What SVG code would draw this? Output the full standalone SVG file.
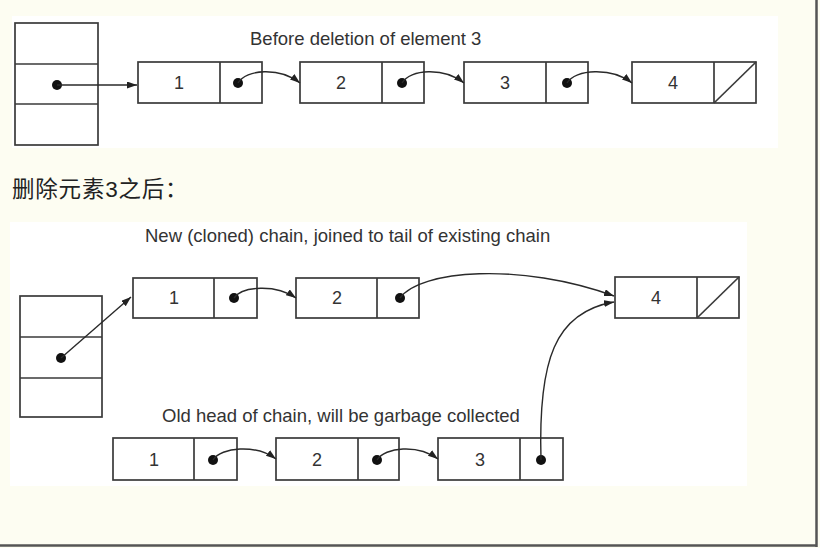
<svg xmlns="http://www.w3.org/2000/svg" width="820" height="548" viewBox="0 0 820 548">
  <style>
    .bx { fill: none; stroke: #3a3a3a; stroke-width: 1.7; }
    .ln { fill: none; stroke: #2a2a2a; stroke-width: 1.4; }
    .dot { fill: #111; }
    .num { font-family: "Liberation Sans", Arial, sans-serif; font-size: 18px; fill: #333; text-anchor: middle; }
    .cap { font-family: "Liberation Sans", Arial, sans-serif; font-size: 18.5px; fill: #333; }
    .cn { font-family: "Liberation Sans", "Noto Sans CJK SC", sans-serif; font-size: 22.5px; fill: #222; letter-spacing: 0.8px; }
  </style>
  <defs>
    <marker id="ah" markerUnits="userSpaceOnUse" markerWidth="11" markerHeight="8" refX="10" refY="3.5" orient="auto">
      <path d="M0,0 L10,3.5 L0,7 z" fill="#222"/>
    </marker>
  </defs>

  <rect x="0" y="0" width="820" height="548" fill="#fdfdf2"/>
  <rect x="12" y="16" width="766" height="132" fill="#ffffff"/>
  <rect x="10" y="222" width="737" height="264" fill="#ffffff"/>
  <line x1="816.5" y1="0" x2="816.5" y2="547" stroke="#555" stroke-width="2.5"/>
  <line x1="0" y1="545.5" x2="817" y2="545.5" stroke="#555" stroke-width="2.5"/>

  <text class="cap" x="250" y="45">Before deletion of element 3</text>
  <text class="cn" x="12" y="197">删除元素3之后：</text>
  <text class="cap" x="145" y="242">New (cloned) chain, joined to tail of existing chain</text>
  <text class="cap" x="162" y="422">Old head of chain, will be garbage collected</text>

  <!-- top: before deletion -->
  <g id="stack-top">
    <rect class="bx" x="15" y="23" width="83" height="122"/>
    <line class="bx" x1="15" y1="64" x2="98" y2="64"/>
    <line class="bx" x1="15" y1="104" x2="98" y2="104"/>
    <circle class="dot" cx="57" cy="85" r="5"/>
  </g>
  <g id="top-n1">
    <rect class="bx" x="138" y="62" width="124" height="41"/>
    <line class="bx" x1="220" y1="62" x2="220" y2="103"/>
    <text class="num" x="179" y="89">1</text>
    <circle class="dot" cx="238" cy="83" r="5"/>
  </g>
  <g id="top-n2">
    <rect class="bx" x="300" y="62" width="124" height="41"/>
    <line class="bx" x1="382" y1="62" x2="382" y2="103"/>
    <text class="num" x="341" y="89">2</text>
    <circle class="dot" cx="402" cy="83" r="5"/>
  </g>
  <g id="top-n3">
    <rect class="bx" x="464" y="62" width="124" height="41"/>
    <line class="bx" x1="546" y1="62" x2="546" y2="103"/>
    <text class="num" x="505" y="89">3</text>
    <circle class="dot" cx="567" cy="83" r="5"/>
  </g>
  <g id="top-n4">
    <rect class="bx" x="632" y="62" width="124" height="41"/>
    <line class="bx" x1="714" y1="62" x2="714" y2="103"/>
    <line class="bx" x1="714" y1="103" x2="756" y2="62"/>
    <text class="num" x="673" y="89">4</text>
  </g>

  <!-- bottom: after deletion, new chain -->
  <g id="stack-bottom">
    <rect class="bx" x="20" y="296" width="82" height="121"/>
    <line class="bx" x1="20" y1="337" x2="102" y2="337"/>
    <line class="bx" x1="20" y1="378" x2="102" y2="378"/>
    <circle class="dot" cx="61" cy="358" r="5"/>
  </g>
  <g id="new-n1">
    <rect class="bx" x="133" y="278" width="124" height="40"/>
    <line class="bx" x1="214" y1="278" x2="214" y2="318"/>
    <text class="num" x="174" y="304">1</text>
    <circle class="dot" cx="234" cy="298" r="5"/>
  </g>
  <g id="new-n2">
    <rect class="bx" x="296" y="278" width="123" height="40"/>
    <line class="bx" x1="377" y1="278" x2="377" y2="318"/>
    <text class="num" x="337" y="304">2</text>
    <circle class="dot" cx="400" cy="298" r="5"/>
  </g>
  <g id="new-n4">
    <rect class="bx" x="615" y="277" width="124" height="41"/>
    <line class="bx" x1="697" y1="277" x2="697" y2="318"/>
    <line class="bx" x1="697" y1="318" x2="739" y2="277"/>
    <text class="num" x="656" y="304">4</text>
  </g>

  <!-- old chain -->
  <g id="old-n1">
    <rect class="bx" x="113" y="438" width="124" height="42"/>
    <line class="bx" x1="194" y1="438" x2="194" y2="480"/>
    <text class="num" x="154" y="466">1</text>
    <circle class="dot" cx="213" cy="460" r="5"/>
  </g>
  <g id="old-n2">
    <rect class="bx" x="276" y="438" width="123" height="42"/>
    <line class="bx" x1="358" y1="438" x2="358" y2="480"/>
    <text class="num" x="317" y="466">2</text>
    <circle class="dot" cx="377" cy="460" r="5"/>
  </g>
  <g id="old-n3">
    <rect class="bx" x="438" y="438" width="125" height="42"/>
    <line class="bx" x1="520" y1="438" x2="520" y2="480"/>
    <text class="num" x="480" y="466">3</text>
    <circle class="dot" cx="541" cy="460" r="5"/>
  </g>

  <g id="connectors">
    <line class="ln" x1="57" y1="85" x2="137" y2="85" marker-end="url(#ah)"/>
    <path class="ln" d="M238,83 C246,69 280,67 300,83" marker-end="url(#ah)"/>
    <path class="ln" d="M402,83 C410,69 444,67 464,83" marker-end="url(#ah)"/>
    <path class="ln" d="M567,83 C575,69 612,67 632,83" marker-end="url(#ah)"/>

    <line class="ln" x1="61" y1="358" x2="131" y2="297" marker-end="url(#ah)"/>
    <path class="ln" d="M234,298 C242,286 276,284 296,298" marker-end="url(#ah)"/>
    <path class="ln" d="M400,298 C420,270 520,262 614,296" marker-end="url(#ah)"/>
    <path class="ln" d="M541,460 C538,360 555,312 614,302" marker-end="url(#ah)"/>

    <path class="ln" d="M213,460 C221,447 256,444 276,459" marker-end="url(#ah)"/>
    <path class="ln" d="M377,460 C385,447 418,444 438,459" marker-end="url(#ah)"/>
  </g>
</svg>
